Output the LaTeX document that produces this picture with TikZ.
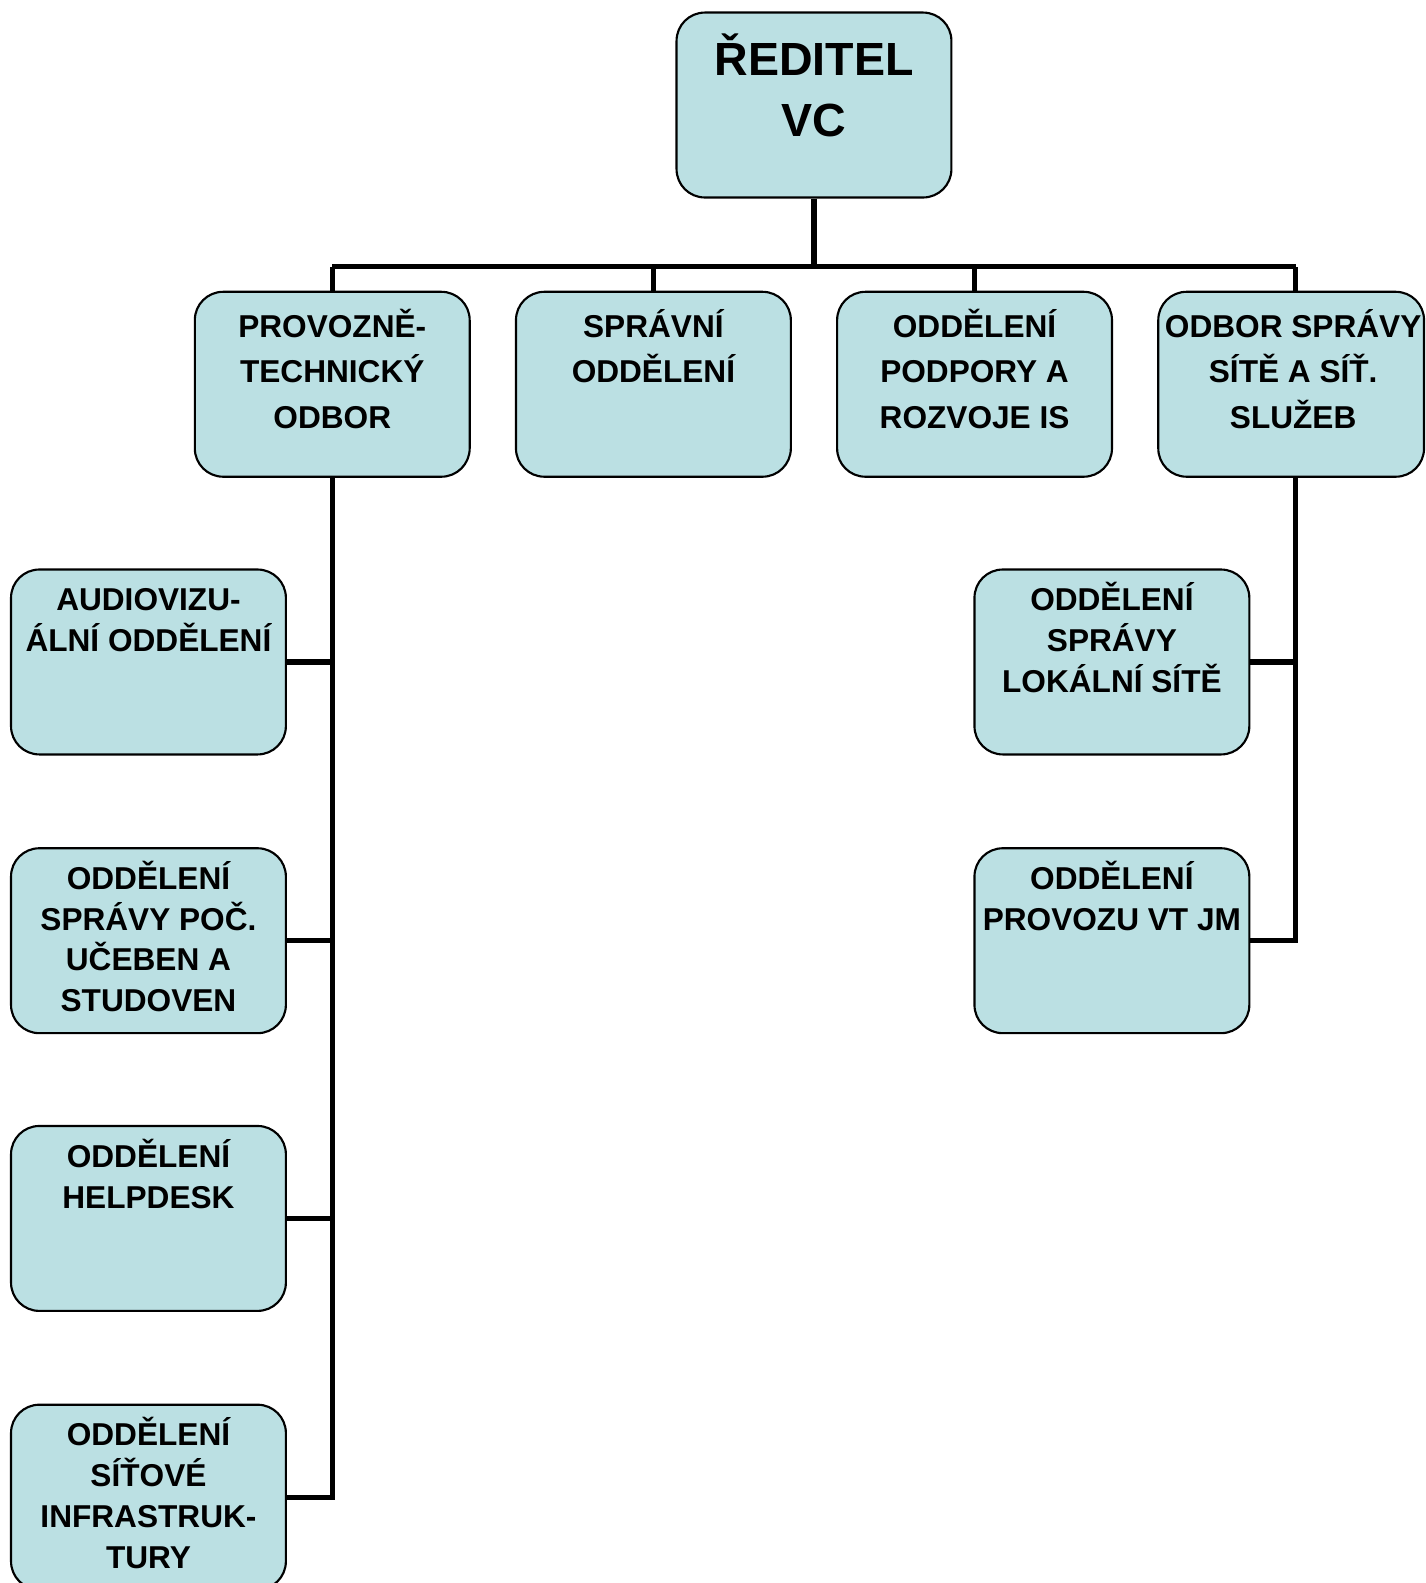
\documentclass[tikz,border=0pt]{standalone}
\usepackage{fontspec}
\setmainfont{Liberation Sans}
\usepackage{tikz}
\usetikzlibrary{calc}
\definecolor{boxblue}{RGB}{187,224,227}

\begin{document}
\begin{tikzpicture}[x=0.01cm,y=-0.01cm,
  unit/.style={draw,line width=0.6pt,fill=boxblue,rounded corners=0.28cm,minimum width=2.72cm,minimum height=1.83cm,inner sep=0},
  conn/.style={line width=1.45pt},
  lbltop/.style={align=center,inner sep=0,anchor=base,font=\bfseries\fontsize{13.1}{17.3}\selectfont},
  lblmid/.style={align=center,inner sep=0,anchor=base,font=\bfseries\fontsize{8.9}{12.8}\selectfont},
  lblsub/.style={align=center,inner sep=0,anchor=base,font=\bfseries\fontsize{8.9}{11.5}\selectfont}]

\useasboundingbox (0,0) rectangle (1412,1567.5);

%Reditel
\node[unit] (reditel) at (806,104) {};
\node[lbltop] (treditel) at ($(reditel.north)+(0,124)$) {ŘEDITEL\\VC};

%PTO
\node[unit] (pto) at (329,380.5) {};
\node[lblmid] (tpto) at ($(pto.north)+(0,136)$) {PROVOZNĚ-\\TECHNICKÝ\\ODBOR};
%SO
\node[unit] (so) at (647,380.5) {};
\node[lblmid] (tso) at ($(so.north)+(0,91)$) {SPRÁVNÍ\\ODDĚLENÍ};
%OPRIS
\node[unit] (opris) at (965,380.5) {};
\node[lblmid] (topris) at ($(opris.north)+(0,136)$) {ODDĚLENÍ\\PODPORY A\\ROZVOJE IS};
%OSSS
\node[unit,minimum width=2.63cm] (osss) at (1278.5,380.5) {};
\node[lblmid] (tosss) at ($(osss.north)+(2,136)$) {ODBOR SPRÁVY\\SÍTĚ A SÍŤ.\\SLUŽEB};

%AVO
\node[unit] (avo) at (147,655.5) {};
\node[lblsub] (tavo) at ($(avo.north)+(0,82.5)$) {AUDIOVIZU-\\ÁLNÍ ODDĚLENÍ};
%OSPU
\node[unit] (ospu) at (147,931.5) {};
\node[lblsub] (tospu) at ($(ospu.north)+(0,163)$) {ODDĚLENÍ\\SPRÁVY POČ.\\UČEBEN A\\STUDOVEN};
%OH
\node[unit] (oh) at (147,1206.5) {};
\node[lblsub] (toh) at ($(oh.north)+(0,82.5)$) {ODDĚLENÍ\\HELPDESK};
%OSI
\node[unit] (osi) at (147,1482.5) {};
\node[lblsub] (tosi) at ($(osi.north)+(0,163)$) {ODDĚLENÍ\\SÍŤOVÉ\\INFRASTRUK-\\TURY};

%OSLS
\node[unit] (osls) at (1101,655.5) {};
\node[lblsub] (tosls) at ($(osls.north)+(0,123)$) {ODDĚLENÍ\\SPRÁVY\\LOKÁLNÍ SÍTĚ};
%OPVT
\node[unit] (opvt) at (1101,931.5) {};
\node[lblsub] (topvt) at ($(opvt.north)+(0,82.5)$) {ODDĚLENÍ\\PROVOZU VT JM};

%lines
\coordinate (bus) at (806,264);
\coordinate (rtrunk) at (1283,472);
\draw[conn] (reditel.south) -- (bus);
\draw[conn] (pto.north |- bus) -- (rtrunk |- bus);
\draw[conn] (pto.north) -- (pto.north |- bus);
\draw[conn] (so.north) -- (so.north |- bus);
\draw[conn] (opris.north) -- (opris.north |- bus);
\draw[conn] (osss.north -| rtrunk) -- (rtrunk |- bus);

\draw[conn] (pto.south) -- (pto.south |- osi.east) -- (osi.east);
\draw[conn] (avo.east) -- (avo.east -| pto.south);
\draw[conn] (ospu.east) -- (ospu.east -| pto.south);
\draw[conn] (oh.east) -- (oh.east -| pto.south);

\draw[conn] (rtrunk) -- (rtrunk |- opvt.east) -- (opvt.east);
\draw[conn] (osls.east) -- (osls.east -| rtrunk);

\end{tikzpicture}
\end{document}
